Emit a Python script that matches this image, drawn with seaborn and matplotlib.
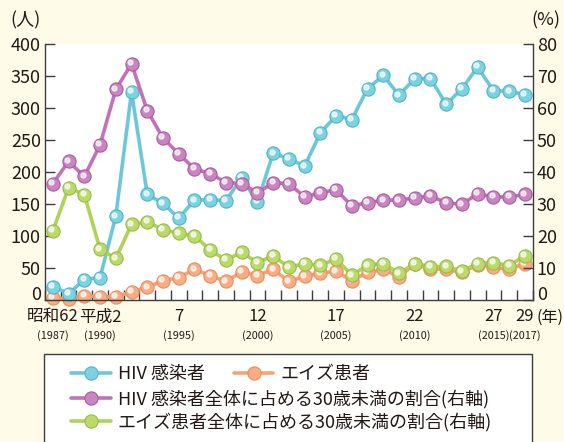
import numpy as np
import pandas as pd

import matplotlib
matplotlib.use('Agg')

import matplotlib.pyplot as plt
import seaborn as sns
from matplotlib import font_manager
from matplotlib.patches import Rectangle
from matplotlib.transforms import offset_copy


# =========================================================
# DATA
# =========================================================

YEARS = list(range(1987, 2018))

HIV = [21, 10, 32, 35, 131, 325, 165, 151, 128, 156, 157, 155, 191, 153, 229, 221,
       209, 261, 288, 282, 330, 351, 320, 346, 346, 306, 330, 364, 327, 326, 321]

AIDS = [3, 2, 7, 5, 5, 13, 20, 30, 35, 48, 38, 29, 44, 38, 48, 29,
        37, 42, 45, 30, 43, 48, 36, 56, 49, 48, 43, 55, 51, 48, 57]

HIV_U30 = [36.4, 43.3, 38.6, 48.5, 65.8, 73.8, 59.2, 50.6, 45.7, 41.0, 39.5, 36.7,
           36.4, 33.5, 36.6, 36.4, 32.2, 33.5, 34.5, 29.4, 30.4, 31.2, 31.2, 31.9,
           32.5, 30.4, 29.9, 33.2, 32.2, 32.2, 33.0]

AIDS_U30 = [21.6, 35.1, 32.9, 15.9, 13.0, 23.6, 24.4, 22.0, 20.8, 20.1, 15.6, 12.5,
            14.9, 11.7, 13.8, 10.2, 11.4, 10.8, 12.9, 7.7, 10.9, 11.4, 8.3, 11.4,
            10.4, 10.5, 9.0, 11.4, 11.7, 10.7, 13.9]

XTICK_YEARS = [1987, 1990, 1995, 2000, 2005, 2010, 2015, 2017]
XTICK_ERA = ['昭和62', '平成2', '7', '12', '17', '22', '27', '29']
XTICK_AD = ['(1987)', '(1990)', '(1995)', '(2000)', '(2005)', '(2010)', '(2015)', '(2017)']

LABELS = [
    'HIV 感染者',
    'エイズ患者',
    'HIV 感染者全体に占める30歳未満の割合(右軸)',
    'エイズ患者全体に占める30歳未満の割合(右軸)',
]


# =========================================================
# STYLE
# =========================================================

sns.set_style("ticks")

plt.rcParams['font.family'] = ['Noto Sans CJK JP', 'DejaVu Sans']

installed = {f.name for f in font_manager.fontManager.ttflist}
YEAR_FONT = ['Liberation Sans Narrow'] if 'Liberation Sans Narrow' in installed \
    else ['Noto Sans CJK JP']

BG = '#FFFBE9'
INK = '#231815'
SPINE = '#3C3C3C'

COLORS = {
    'hiv': ('#6CC8D8', '#7DD2E0', '#4FB4C6'),
    'aids': ('#F6A275', '#F8AD84', '#E88E5E'),
    'hiv_u30': ('#C273B8', '#C985BF', '#A95C9F'),
    'aids_u30': ('#AFD25A', '#BCDA6C', '#97BC42'),
}


# =========================================================
# FIGURE
# =========================================================

fig = plt.figure(figsize=(5.64, 4.42), dpi=100, facecolor=BG)

ax = fig.add_axes([45 / 564, 1 - 300 / 442, 487.7 / 564, 256 / 442])
ax.set_facecolor('white')

ax2 = ax.twinx()


def draw_series(axis, values, key):
    line_c, face_c, edge_c = COLORS[key]
    sns.lineplot(
        x=YEARS,
        y=values,
        ax=axis,
        color=line_c,
        linewidth=2.6,
        marker='o',
        markersize=9.5,
        markerfacecolor=face_c,
        markeredgecolor=edge_c,
        markeredgewidth=0.8,
        clip_on=False,
        legend=False
    )
    handle = axis.lines[-1]
    # small shine so the markers read as beads
    axis.plot(
        YEARS,
        values,
        linestyle='none',
        marker='o',
        markersize=3.6,
        color='white',
        alpha=0.7,
        clip_on=False,
        transform=offset_copy(axis.transData, fig=fig, x=-1.6, y=1.6, units='dots')
    )
    return handle


h_aids = draw_series(ax, AIDS, 'aids')
h_hiv = draw_series(ax, HIV, 'hiv')
h_hiv30 = draw_series(ax2, HIV_U30, 'hiv_u30')
h_aids30 = draw_series(ax2, AIDS_U30, 'aids_u30')


# =========================================================
# AXES
# =========================================================

ax.set_xlim(1986.5, 2017.5)
ax.set_ylim(0, 400)
ax2.set_ylim(0, 80)

ax.set_yticks(np.arange(0, 401, 50))
ax2.set_yticks(np.arange(0, 81, 10))

ax.set_xticks(XTICK_YEARS, XTICK_ERA)
ax.set_xticks(np.arange(1986.5, 2018, 1), minor=True)

ax.tick_params(axis='x', which='major', length=0, pad=6, labelsize=12, colors=INK)
ax.tick_params(axis='x', which='minor', direction='in', length=7, width=1, color=SPINE)
ax.tick_params(axis='y', direction='in', length=7, width=1, color=SPINE,
               labelsize=13, labelcolor=INK, pad=3)
ax2.tick_params(axis='y', direction='in', length=7, width=1, color=SPINE,
                labelsize=13, labelcolor=INK, pad=3)

for a in (ax, ax2):
    a.set_xlabel('')
    a.set_ylabel('')
    a.spines['top'].set_visible(False)
    for s in a.spines.values():
        s.set_color(SPINE)
        s.set_linewidth(1)

ax.spines['right'].set_visible(False)
ax2.spines['left'].set_visible(False)
ax2.spines['bottom'].set_visible(False)

# zero labels sit on the baseline, raised off the x labels
ax.yaxis.get_major_ticks()[0].label1.set_verticalalignment('baseline')
ax2.yaxis.get_major_ticks()[0].label2.set_verticalalignment('baseline')

for yr, lab in zip(XTICK_YEARS, XTICK_AD):
    ax.text(
        yr, -0.137, lab,
        transform=ax.get_xaxis_transform(),
        ha='center', va='center',
        fontsize=7.8, color=INK, family=YEAR_FONT
    )

fig.text(25 / 564, 1 - 20 / 442, '(人)', ha='center', va='center', fontsize=13, color=INK)
fig.text(546 / 564, 1 - 20 / 442, '(%)', ha='center', va='center', fontsize=13, color=INK)
fig.text(536 / 564, 1 - 317 / 442, '(年)', ha='left', va='center', fontsize=11.5, color=INK)


# =========================================================
# LEGEND
# =========================================================

fig.add_artist(Rectangle(
    (44 / 564, -0.05), 488.3 / 564, (442 - 354.3) / 442 + 0.05,
    transform=fig.transFigure, facecolor='white', edgecolor=SPINE,
    linewidth=1, zorder=1
))

legend_kw = dict(
    loc='center left',
    frameon=False,
    fontsize=13,
    handlelength=2.2,
    handletextpad=0.4,
    columnspacing=1.6,
    borderpad=0,
    borderaxespad=0,
    labelcolor=INK
)

rows = [
    ([h_hiv, h_aids], LABELS[:2], 374),
    ([h_hiv30], [LABELS[2]], 399),
    ([h_aids30], [LABELS[3]], 422),
]

for handles, labels, y in rows:
    leg = fig.legend(handles, labels, ncol=len(handles),
                     bbox_to_anchor=(71 / 564, 1 - y / 442), **legend_kw)
    leg.set_zorder(2)


# =========================================================
# SAVE FIGURE
# =========================================================

plt.savefig('out.png', dpi=100, facecolor=BG)

plt.close()
